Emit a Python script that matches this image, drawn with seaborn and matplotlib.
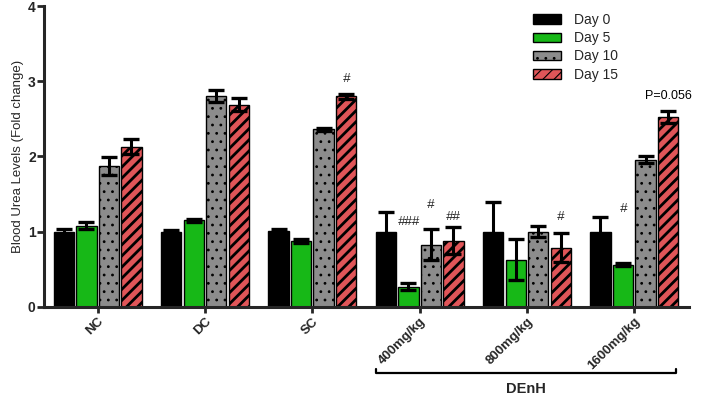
import numpy as np
import pandas as pd
import matplotlib
matplotlib.use("Agg")
import matplotlib.pyplot as plt
import matplotlib.transforms as mtransforms
from matplotlib.patches import Patch
import seaborn as sns

# ──────────────────────────────────────────────
# Data
# ──────────────────────────────────────────────
groups = ["NC", "DC", "SC", "400mg/kg", "800mg/kg", "1600mg/kg"]
days = ["Day 0", "Day 5", "Day 10", "Day 15"]

day0 = [1.00, 1.00, 1.01, 1.00, 1.00, 1.00]
day5 = [1.08, 1.15, 0.88, 0.27, 0.63, 0.56]
day10 = [1.87, 2.81, 2.36, 0.83, 1.00, 1.96]
day15 = [2.13, 2.69, 2.80, 0.88, 0.79, 2.52]

err0 = [0.03, 0.02, 0.03, 0.26, 0.39, 0.19]
err5 = [0.05, 0.02, 0.03, 0.05, 0.27, 0.02]
err10 = [0.12, 0.08, 0.02, 0.20, 0.07, 0.05]
err15 = [0.10, 0.09, 0.03, 0.18, 0.19, 0.08]

# (group, day, label)
sig_marks = [
    ("SC", "Day 15", "#"),
    ("400mg/kg", "Day 5", "###"),
    ("400mg/kg", "Day 10", "#"),
    ("400mg/kg", "Day 15", "##"),
    ("800mg/kg", "Day 15", "#"),
    ("1600mg/kg", "Day 5", "#"),
    ("1600mg/kg", "Day 15", "P=0.056"),
]
sig_y = [3.03, 1.13, 1.36, 1.20, 1.19, 1.30, 2.80]

bracket_groups = ["400mg/kg", "1600mg/kg"]
bracket_label = "DEnH"

# ──────────────────────────────────────────────
# Build long table
# ──────────────────────────────────────────────
values = [day0, day5, day10, day15]
errors = [err0, err5, err10, err15]
rows = []
for d, vals, errs in zip(days, values, errors):
    for g, v, e in zip(groups, vals, errs):
        rows.append({"Group": g, "Day": d, "Value": v, "Err": e})
df = pd.DataFrame(rows)

# ──────────────────────────────────────────────
# Style
# ──────────────────────────────────────────────
sns.set_style("ticks")
plt.rcParams["font.family"] = ["Liberation Sans", "DejaVu Sans"]
plt.rcParams["hatch.linewidth"] = 0.8

colors = ["#000000", "#17b817", "#8c8c8c", "#e05558"]
hatches = [None, None, "..", "///"]
hatch_lw = [None, None, 0.8, 2.0]


def apply_hatch(patch, h, lw):
    if not h:
        return
    patch.set_hatch(h)
    if hasattr(patch, "set_hatch_linewidth"):
        patch.set_hatch_linewidth(lw)


fig = plt.figure(figsize=(7.03, 3.95), dpi=100)
ax = fig.add_axes([0.0626, 0.2228, 0.9175, 0.762])

sns.barplot(
    data=df, x="Group", y="Value", hue="Day",
    order=groups, hue_order=days, palette=colors, saturation=1,
    errorbar=None, width=0.84, gap=0.1,
    edgecolor="black", linewidth=1.0, ax=ax, legend=False,
)

# hatches + error bars
bar_x = {}
for container, d, h, hl in zip(ax.containers, days, hatches, hatch_lw):
    sub = df[df["Day"] == d].set_index("Group").loc[groups]
    xs = []
    for patch, g in zip(container.patches, groups):
        apply_hatch(patch, h, hl)
        cx = patch.get_x() + patch.get_width() / 2
        xs.append(cx)
        bar_x[(g, d)] = cx
    ax.errorbar(xs, sub["Value"], yerr=sub["Err"], fmt="none",
                ecolor="black", elinewidth=2.2, capsize=6, capthick=2.4, zorder=5)

# significance labels
for (g, d, txt), y in zip(sig_marks, sig_y):
    if txt.startswith("#"):
        ax.text(bar_x[(g, d)], y, txt, ha="center", va="center",
                fontsize=9.5, style="italic", color="#222222")
    else:
        ax.text(bar_x[(g, d)], y, txt, ha="center", va="center",
                fontsize=9, color="black")

# axes
ax.set_xlim(-0.5, 5.51)
ax.set_ylim(0, 4)
ax.set_yticks([0, 1, 2, 3, 4])
ax.set_xlabel("")
ax.set_ylabel("Blood Urea Levels (Fold change)", fontsize=9.5, labelpad=3)
for lab in ax.get_yticklabels():
    lab.set_fontweight("bold")
    lab.set_fontsize(10)
ax.set_xticks(range(len(groups)))
ax.set_xticklabels(groups, rotation=45, ha="right", rotation_mode="anchor",
                   fontsize=9.5, fontweight="bold")
sns.despine(ax=ax)
for s in ["left", "bottom"]:
    ax.spines[s].set_linewidth(2.2)
ax.tick_params(axis="y", width=2, length=5, pad=1)
ax.tick_params(axis="x", width=2, length=4, pad=2)

# bracket under DEnH doses
trans = mtransforms.blended_transform_factory(ax.transData, ax.transAxes)
i0 = groups.index(bracket_groups[0])
i1 = groups.index(bracket_groups[1])
x0, x1 = i0 - 0.41, i1 + 0.39
yb = -0.22
ax.plot([x0, x0, x1, x1], [yb + 0.015, yb, yb, yb + 0.015], color="black",
        lw=1.6, transform=trans, clip_on=False)
ax.text((x0 + x1) / 2, -0.274, bracket_label, transform=trans, ha="center",
        va="center", fontsize=10.5, fontweight="bold")

# legend
handles = []
for c, h, hl in zip(colors, hatches, hatch_lw):
    p = Patch(facecolor=c, edgecolor="black", linewidth=1.0)
    apply_hatch(p, h, hl)
    handles.append(p)
leg = ax.legend(handles, days, loc="upper left", bbox_to_anchor=(0.75, 0.995),
                frameon=False, fontsize=10, handlelength=2.0, handleheight=0.7,
                labelspacing=0.3, handletextpad=0.9, borderaxespad=0)

fig.savefig("out.png", dpi=100)
